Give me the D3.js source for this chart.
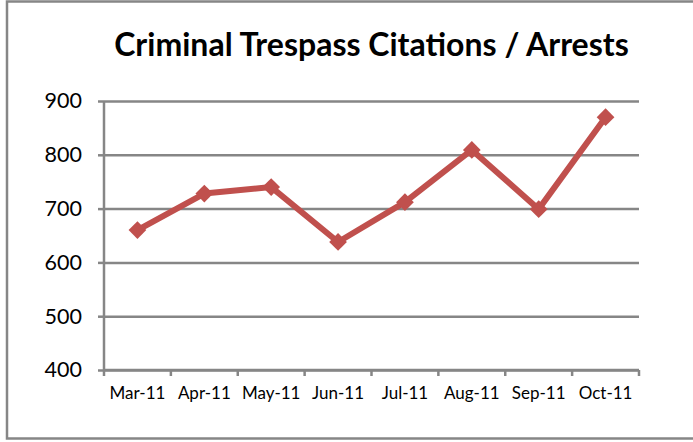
<!DOCTYPE html>
<html>
<head>
<meta charset="utf-8">
<script src="https://cdn.jsdelivr.net/npm/d3@7"></script>
<style>
    body { margin: 0; background: #fff; }
    svg { display: block; }
    text { font-family: Lato, "Open Sans", sans-serif; fill: #000; }
</style>
</head>
<body>
<svg id="chart" width="693" height="442"></svg>
<script>
const months = ['Mar-11', 'Apr-11', 'May-11', 'Jun-11', 'Jul-11', 'Aug-11', 'Sep-11', 'Oct-11'];
const arrests = [660, 728, 740, 638, 712, 809, 699, 870];
const yTicks = [400, 500, 600, 700, 800, 900];
const title = 'Criminal Trespass Citations / Arrests';

const gridColor = '#868686', lineColor = '#C0504D';
const plot = { left: 104, right: 639, top: 101, bottom: 370 };

const svg = d3.select('#chart');

// outer chart frame
svg.append('rect')
    .attr('x', 7).attr('y', 1.5)
    .attr('width', 700).attr('height', 437)
    .attr('fill', 'none')
    .attr('stroke', gridColor)
    .attr('stroke-width', 2.5);

svg.append('text')
    .attr('x', 371.5)
    .attr('y', 56)
    .attr('text-anchor', 'middle')
    .style('font-size', '32px')
    .style('font-weight', 'bold')
    .text(title);

const x = d3.scaleBand()
    .domain(months)
    .range([plot.left, plot.right]);

const y = d3.scaleLinear()
    .domain([400, 900])
    .range([plot.bottom, plot.top]);

// gridlines
svg.append('g')
    .attr('transform', `translate(${plot.left},0)`)
    .call(d3.axisLeft(y).tickValues(yTicks).tickSize(-(plot.right - plot.left)).tickFormat(''))
    .call(g => g.select('.domain').remove())
    .call(g => g.selectAll('.tick line').attr('stroke', gridColor).attr('stroke-width', 2.5));

// y axis
svg.append('g')
    .attr('transform', `translate(${plot.left},0)`)
    .call(d3.axisLeft(y).tickValues(yTicks).tickSize(6).tickPadding(16))
    .call(g => g.select('.domain').attr('stroke', gridColor).attr('stroke-width', 2.5)
        .attr('d', `M0,${plot.top}V${plot.bottom}`))
    .call(g => g.selectAll('.tick line').attr('stroke', gridColor).attr('stroke-width', 2.5))
    .call(g => g.selectAll('.tick text').style('font-size', '21.5px'));

// x axis: labels at band centres, tick marks between bands
svg.append('g')
    .attr('transform', `translate(0,${plot.bottom})`)
    .call(d3.axisBottom(x).tickSize(0).tickPadding(17))
    .call(g => g.select('.domain').attr('stroke', gridColor).attr('stroke-width', 2.5)
        .attr('d', `M${plot.left},0H${plot.right}`))
    .call(g => g.selectAll('.tick text').style('font-size', '17px'));

svg.append('g')
    .attr('transform', `translate(0,${plot.bottom})`)
    .selectAll('line')
    .data(months.map(m => x(m)).concat([plot.right]))
    .enter()
    .append('line')
    .attr('x1', d => d).attr('x2', d => d)
    .attr('y1', 0).attr('y2', 6)
    .attr('stroke', gridColor)
    .attr('stroke-width', 2.5);

const cx = (d, i) => x(months[i]) + x.bandwidth() / 2;

svg.append('path')
    .datum(arrests)
    .attr('fill', 'none')
    .attr('stroke', lineColor)
    .attr('stroke-width', 6)
    .attr('stroke-linejoin', 'round')
    .attr('d', d3.line().x(cx).y(d => y(d)));

svg.append('g')
    .selectAll('path')
    .data(arrests)
    .enter()
    .append('path')
    .attr('d', d3.symbol(d3.symbolDiamond2, 200))
    .attr('transform', (d, i) => `translate(${cx(d, i)},${y(d)})`)
    .attr('fill', lineColor);
</script>
</body>
</html>
